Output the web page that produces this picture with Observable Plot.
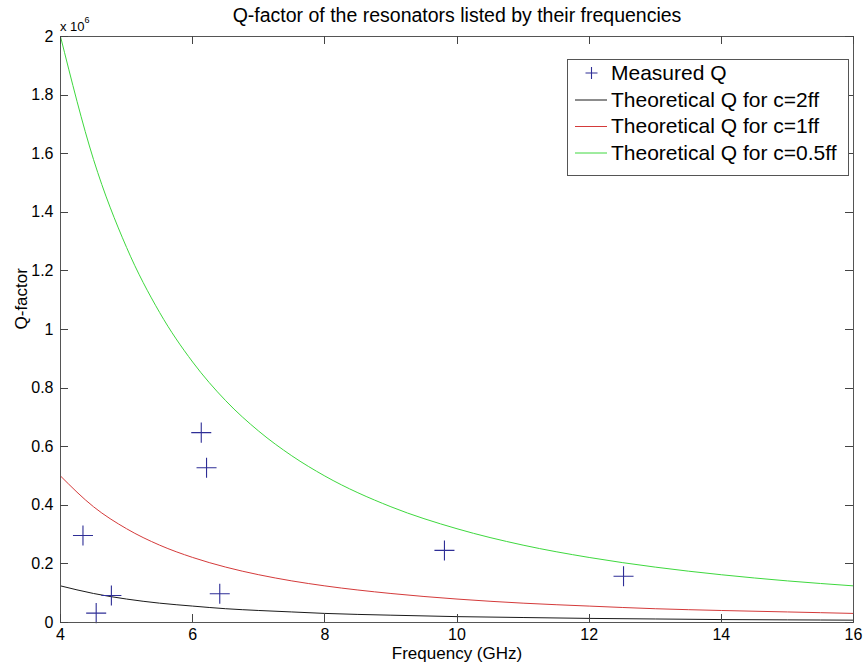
<!DOCTYPE html>
<html>
<head>
<meta charset="utf-8">
<script src="https://cdn.jsdelivr.net/npm/d3@7"></script>
<script src="https://cdn.jsdelivr.net/npm/@observablehq/plot@0.6"></script>
<style>
  body { margin: 0; background: #fff; }
  #chart svg { display: block; }
</style>
</head>
<body>
<div id="chart"></div>
<script>
// Frequencies (GHz) at which the theoretical Q curves are sampled
const freqGrid = [4, 4.5, 5, 5.5, 6, 6.5, 7, 7.5, 8, 9, 10, 11, 12, 13, 14, 15, 16];

// Theoretical Q (×10^6) for each coupling capacitance
const qC2  = [0.125, 0.099, 0.080, 0.066, 0.056, 0.047, 0.041, 0.036, 0.031, 0.025, 0.020, 0.017, 0.014, 0.012, 0.010, 0.009, 0.008];
const qC1  = [0.500, 0.395, 0.320, 0.264, 0.222, 0.189, 0.163, 0.142, 0.125, 0.099, 0.080, 0.066, 0.056, 0.047, 0.041, 0.036, 0.031];
const qC05 = [2.000, 1.580, 1.280, 1.058, 0.889, 0.757, 0.653, 0.569, 0.500, 0.395, 0.320, 0.264, 0.222, 0.189, 0.163, 0.142, 0.125];

// Measured resonators: frequency (GHz) and Q (×10^6)
const measuredFreq = [4.34, 4.54, 4.77, 6.13, 6.21, 6.41, 9.81, 12.52];
const measuredQ    = [0.297, 0.032, 0.092, 0.648, 0.528, 0.098, 0.246, 0.158];

// Axis ticks
const xTicks = [4, 6, 8, 10, 12, 14, 16];
const yTicks = [0, 0.2, 0.4, 0.6, 0.8, 1, 1.2, 1.4, 1.6, 1.8, 2];

// Series labels and colours
const seriesNames  = ["Measured Q", "Theoretical Q for c=2ff", "Theoretical Q for c=1ff", "Theoretical Q for c=0.5ff"];
const seriesColors = ["#2e2e96", "#1a1a1a", "#d43a3a", "#3ed83e"];

const titleText = "Q-factor of the resonators listed by their frequencies";
const xLabel = "Frequency (GHz)";
const yLabel = "Q-factor";

const font = "'Liberation Sans', Arial, Helvetica, sans-serif";
const axisGrey = "#555";
const tickLen = 8;

const W = 864, H = 667;
const margin = {top: 36, right: 11, bottom: 45, left: 60};

const measured = measuredFreq.map((f, i) => ({f, q: measuredQ[i]}));
const curveSeries = [qC2, qC1, qC05].map(vals => freqGrid.map((f, i) => ({f, q: vals[i]})));

const plot = Plot.plot({
  width: W,
  height: H,
  marginLeft: margin.left,
  marginRight: margin.right,
  marginTop: margin.top,
  marginBottom: margin.bottom,
  style: {fontFamily: font, fontSize: "16px", background: "#fff", color: "#000"},
  x: {type: "linear", domain: [4, 16]},
  y: {type: "linear", domain: [0, 2]},
  marks: [
    // theoretical curves
    ...curveSeries.map((data, i) =>
      Plot.line(data, {x: "f", y: "q", stroke: seriesColors[i + 1], strokeWidth: 1, curve: "monotone-x", clip: true})
    ),
    // measured points
    Plot.dot(measured, {x: "f", y: "q", symbol: "plus", r: 6.5, stroke: seriesColors[0], strokeWidth: 1.1}),
    // boxed axes
    Plot.frame({stroke: axisGrey}),
    // tick labels
    Plot.axisX(xTicks, {anchor: "bottom", tickSize: 0, tickPadding: 6, label: null, fill: "#000", tickFormat: d => String(d), fontSize: 16}),
    Plot.axisY(yTicks, {anchor: "left", tickSize: 0, tickPadding: 7, label: null, fill: "#000", tickFormat: d => String(d), fontSize: 16}),
    // title and axis labels
    Plot.text([titleText], {text: d => d, frameAnchor: "top", dy: -21, fontSize: 19.5, lineAnchor: "middle"}),
    Plot.text([xLabel], {text: d => d, frameAnchor: "bottom", dy: 31, fontSize: 17, lineAnchor: "middle"}),
    Plot.text([yLabel], {text: d => d, frameAnchor: "left", dx: -39, rotate: -90, fontSize: 17, lineAnchor: "middle"})
  ]
});

document.getElementById("chart").appendChild(plot);

const svg = d3.select(plot);
const sx = plot.scale("x"), sy = plot.scale("y");
const edgeL = margin.left, edgeR = W - margin.right, edgeT = margin.top, edgeB = H - margin.bottom;

// inward ticks on all four sides of the box, placed through the plot's scales
const tickGroup = svg.append("g").attr("stroke", "#444").attr("stroke-width", 1).attr("fill", "none");
xTicks.forEach(v => {
  const x = Math.round(sx.apply(v)) + 0.5;
  tickGroup.append("path").attr("d", `M${x},${edgeB}v${-tickLen}M${x},${edgeT}v${tickLen}`);
});
yTicks.forEach(v => {
  const y = Math.round(sy.apply(v)) + 0.5;
  tickGroup.append("path").attr("d", `M${edgeL},${y}h${tickLen}M${edgeR},${y}h${-tickLen}`);
});

// exponent marker for the y axis
const expo = svg.append("text")
  .attr("x", 60).attr("y", 31).attr("text-anchor", "start")
  .attr("font-family", font).attr("font-size", 13).attr("fill", "#000");
expo.append("tspan").text("x 10");
expo.append("tspan").attr("dy", -8).attr("font-size", 9).text("6");

// legend box
const lg = svg.append("g").attr("font-family", font).attr("font-size", 21).attr("text-anchor", "start");
lg.append("rect")
  .attr("x", 567.5).attr("y", 59.5).attr("width", 281).attr("height", 116)
  .attr("fill", "#fff").attr("stroke", axisGrey);
const rowY = [73, 99.5, 126, 152.5];
seriesNames.forEach((name, i) => {
  const y = rowY[i];
  if (i === 0) {
    lg.append("path")
      .attr("d", `M585.5,${y}h12M591.5,${y - 6}v12`)
      .attr("stroke", seriesColors[0]).attr("stroke-width", 1.1).attr("fill", "none");
  } else {
    lg.append("line")
      .attr("x1", 575).attr("x2", 607).attr("y1", y + 0.5).attr("y2", y + 0.5)
      .attr("stroke", seriesColors[i]).attr("stroke-width", 1);
  }
  lg.append("text").attr("x", 611).attr("y", y).attr("dy", "0.35em").attr("fill", "#000").text(name);
});
</script>
</body>
</html>
